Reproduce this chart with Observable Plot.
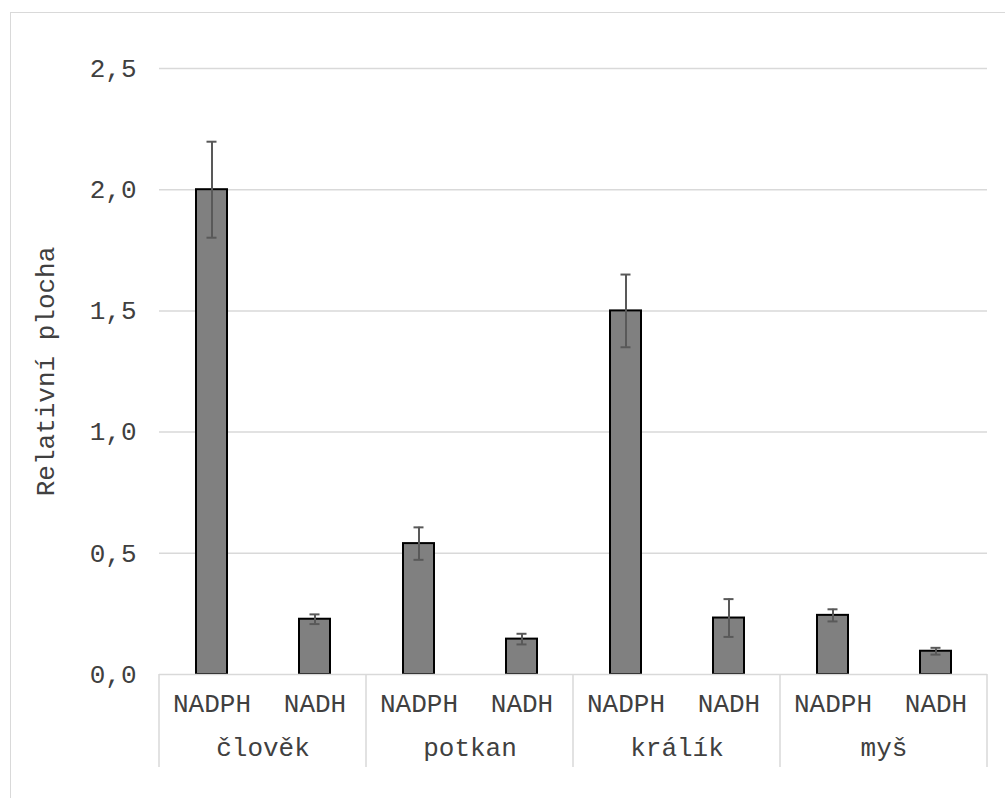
<!DOCTYPE html>
<html>
<head>
<meta charset="utf-8">
<script src="https://cdn.jsdelivr.net/npm/d3@7"></script>
<script src="https://cdn.jsdelivr.net/npm/@observablehq/plot@0.6"></script>
<style>
  html, body { margin: 0; padding: 0; background: #fff; }
  #wrap { position: relative; width: 1005px; height: 798px; overflow: hidden; background: #fff; }
  #chart { position: absolute; left: 0; top: 0; }
  #border { position: absolute; left: 10px; top: 12px; width: 1200px; height: 1000px;
            border: 1.5px solid #d9d9d9; box-sizing: border-box; pointer-events: none; }
</style>
</head>
<body>
<div id="wrap"><div id="chart"></div><div id="border"></div></div>
<script>
// Species (outer groups) and cofactor (inner categories)
const species = ["člověk", "potkan", "králík", "myš"];
const enzymes = ["NADPH", "NADH"];
// Mean relative area per species, in the order of `enzymes`
const means = [
  [2.00, 0.228],
  [0.540, 0.146],
  [1.50, 0.233],
  [0.244, 0.096]
];
// Error (± deviation) per species, in the order of `enzymes`
const errors = [
  [0.198, 0.020],
  [0.067, 0.022],
  [0.150, 0.078],
  [0.025, 0.014]
];
const yTicks = [0, 0.5, 1.0, 1.5, 2.0, 2.5];
const yTitle = "Relativní plocha";

const rows = species.flatMap((s, i) => enzymes.map((e, j) => ({
  species: s,
  enzyme: e,
  value: means[i][j],
  lo: means[i][j] - errors[i][j],
  hi: means[i][j] + errors[i][j]
})));

const FONT = "'Courier New', 'Liberation Mono', monospace";
const TEXT = "#404040";
const GRID = "#d9d9d9";

const chart = Plot.plot({
  width: 1005,
  height: 798,
  marginLeft: 158,
  marginRight: 18,
  marginTop: 68,
  marginBottom: 124,
  style: { fontFamily: FONT, fontSize: "26px", color: TEXT, background: "transparent" },
  fx: { domain: species, padding: 0, label: null },
  x: { domain: enzymes, paddingInner: 0.70, paddingOuter: 0.35, label: null },
  y: { domain: [0, 2.5], label: null },
  marks: [
    // horizontal gridlines (baseline drawn later, over the bars)
    Plot.ruleY(yTicks.filter(d => d > 0), { stroke: GRID, strokeWidth: 1.5 }),
    Plot.barY(rows, {
      fx: "species", x: "enzyme", y: "value",
      fill: "#808080", stroke: "#000", strokeWidth: 2, inset: 0
    }),
    // error bars with short caps
    Plot.ruleX(rows, { fx: "species", x: "enzyme", y1: "lo", y2: "hi", stroke: "#595959", strokeWidth: 2 }),
    Plot.tickY(rows, { fx: "species", x: "enzyme", y: "lo", stroke: "#595959", strokeWidth: 2, insetLeft: 10.5, insetRight: 10.5 }),
    Plot.tickY(rows, { fx: "species", x: "enzyme", y: "hi", stroke: "#595959", strokeWidth: 2, insetLeft: 10.5, insetRight: 10.5 }),
    Plot.ruleY([0], { stroke: GRID, strokeWidth: 1.5 }),
    Plot.axisY({
      ticks: yTicks,
      tickFormat: d => d.toFixed(1).replace(".", ","),
      tickSize: 0,
      tickPadding: 23,
      fontSize: 26,
      fill: TEXT,
      label: yTitle,
      labelArrow: false,
      labelAnchor: "center",
      labelOffset: 124
    }),
    Plot.axisX({ anchor: "bottom", tickSize: 0, tickPadding: 19, fontSize: 26, fill: TEXT, label: null }),
    Plot.axisFx({ anchor: "bottom", tickSize: 0, tickPadding: 63, fontSize: 26, fill: TEXT, label: null })
  ]
});

document.getElementById("chart").appendChild(chart);

// Group separators below the baseline, at the facet edges
const fx = chart.scale("fx");
const y = chart.scale("y");
const y0 = y.apply(0);
const edges = species.map(s => fx.apply(s));
edges.push(fx.apply(species[species.length - 1]) + fx.bandwidth);
d3.select(chart).append("g")
  .attr("stroke", GRID)
  .attr("stroke-width", 1.5)
  .selectAll("line")
  .data(edges)
  .join("line")
  .attr("x1", d => d).attr("x2", d => d)
  .attr("y1", y0).attr("y2", y0 + 93);
</script>
</body>
</html>
